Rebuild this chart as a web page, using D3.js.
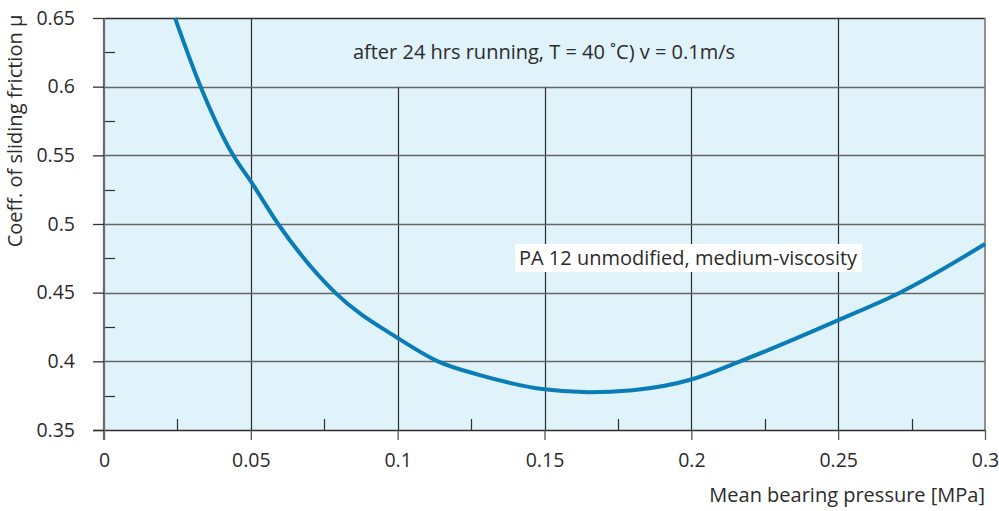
<!DOCTYPE html>
<html>
<head>
<meta charset="utf-8">
<script src="https://cdn.jsdelivr.net/npm/d3@7"></script>
<style>
  html, body { margin: 0; padding: 0; background: #fff; }
  svg { display: block; }
  text { font-family: "Open Sans", "Noto Sans", sans-serif; fill: #2b2b2b; }
</style>
</head>
<body>
<svg id="chart" width="999" height="511"></svg>
<script>
// ---- data ----
const pressure = [0.0242, 0.0329, 0.044, 0.05, 0.0593, 0.0787, 0.1, 0.1137, 0.128, 0.15, 0.165, 0.18, 0.2, 0.2166, 0.25, 0.271, 0.3];
const friction = [0.65, 0.6, 0.55, 0.531, 0.5, 0.45, 0.417, 0.4, 0.39, 0.3796, 0.3775, 0.379, 0.3868, 0.4, 0.43, 0.45, 0.4854];
const xTicks = [0, 0.05, 0.1, 0.15, 0.2, 0.25, 0.3];
const xTickLabels = ["0", "0.05", "0.1", "0.15", "0.2", "0.25", "0.3"];
const yTicks = [0.35, 0.4, 0.45, 0.5, 0.55, 0.6, 0.65];
const yTickLabels = ["0.35", "0.4", "0.45", "0.5", "0.55", "0.6", "0.65"];
const xMinor = [0.025, 0.075, 0.125, 0.175, 0.225, 0.275];
const yMinor = [0.375, 0.425, 0.475, 0.525, 0.575, 0.625];
const xTitle = "Mean bearing pressure [MPa]";
const yTitle = "Coeff. of sliding friction \u03bc";
const noteTop = "after 24 hrs running, T = 40 \u02daC) v = 0.1m/s";
const noteCurve = "PA 12 unmodified, medium-viscosity";

// ---- layout ----
const FS = 19.5;
const svg = d3.select("#chart");
const L = 104, R = 985, T = 18, B = 430;
const x = d3.scaleLinear().domain([0, 0.3]).range([L, R]);
const y = d3.scaleLinear().domain([0.35, 0.65]).range([B, T]);

// background
svg.append("rect").attr("x", L).attr("y", T).attr("width", R - L).attr("height", B - T).attr("fill", "#e0f2fa");

// vertical grid
svg.append("g").selectAll("line").data(xTicks.slice(1, -1)).join("line")
  .attr("x1", d => Math.round(x(d)) + 0.5).attr("x2", d => Math.round(x(d)) + 0.5)
  .attr("y1", T).attr("y2", B)
  .attr("stroke", "#2e2e2e").attr("stroke-width", 1.2);

// cover behind top note
svg.append("rect")
  .attr("x", x(0.06)).attr("y", T + 1).attr("width", x(0.24) - x(0.06)).attr("height", y(0.6) - T - 1)
  .attr("fill", "#e0f2fa");

// horizontal grid
svg.append("g").selectAll("line").data(yTicks.slice(1, -1)).join("line")
  .attr("x1", L).attr("x2", R)
  .attr("y1", d => Math.round(y(d)) + 0.5).attr("y2", d => Math.round(y(d)) + 0.5)
  .attr("stroke", "#666").attr("stroke-width", 1.5);

// minor ticks
svg.append("g").selectAll("line").data(xMinor).join("line")
  .attr("x1", d => Math.round(x(d)) + 0.5).attr("x2", d => Math.round(x(d)) + 0.5)
  .attr("y1", B).attr("y2", B - 11).attr("stroke", "#2e2e2e").attr("stroke-width", 1.2);
svg.append("g").selectAll("line").data(yMinor).join("line")
  .attr("x1", L).attr("x2", L + 11)
  .attr("y1", d => Math.round(y(d)) + 0.5).attr("y2", d => Math.round(y(d)) + 0.5)
  .attr("stroke", "#2e2e2e").attr("stroke-width", 1.2);

// top & right frame
svg.append("line").attr("x1", L).attr("x2", R).attr("y1", T + 0.5).attr("y2", T + 0.5).attr("stroke", "#2e2e2e").attr("stroke-width", 1.3);
svg.append("line").attr("x1", R).attr("x2", R).attr("y1", T).attr("y2", B).attr("stroke", "#777").attr("stroke-width", 1.6);

// axes
const xAxis = d3.axisBottom(x).tickValues(xTicks).tickFormat((d, i) => xTickLabels[i]).tickSize(10).tickPadding(13);
const gx = svg.append("g").attr("transform", `translate(0,${B})`).call(xAxis);
gx.select(".domain").attr("stroke", "#2e2e2e").attr("stroke-width", 1.5).attr("d", `M${L - 11},0.5H${R}`);
gx.selectAll(".tick line").attr("stroke", "#555").attr("stroke-width", 1.3);
gx.selectAll(".tick text").attr("font-size", FS).attr("font-family", "'Open Sans', sans-serif").attr("fill", "#2b2b2b");

const yAxis = d3.axisLeft(y).tickValues(yTicks).tickFormat((d, i) => yTickLabels[i]).tickSize(11).tickPadding(18);
const gy = svg.append("g").attr("transform", `translate(${L},0)`).call(yAxis);
gy.select(".domain").attr("stroke", "#6a6a6a").attr("stroke-width", 2.2).attr("d", `M0,${T}V${B + 10}`);
gy.selectAll(".tick line").attr("stroke", "#333").attr("stroke-width", 1.3);
gy.selectAll(".tick text").attr("font-size", FS).attr("font-family", "'Open Sans', sans-serif").attr("fill", "#2b2b2b");

// curve
const pts = pressure.map((p, i) => [p, friction[i]]);
svg.append("path").datum(pts)
  .attr("fill", "none").attr("stroke", "#0a7cb6").attr("stroke-width", 4)
  .attr("stroke-linecap", "butt")
  .attr("d", d3.line().x(d => x(d[0])).y(d => y(d[1])).curve(d3.curveMonotoneX));

// notes
svg.append("text").attr("x", 544).attr("y", y(0.625) + 7)
  .attr("text-anchor", "middle").attr("font-size", 20).text(noteTop);

const n2 = svg.append("g");
const n2t = n2.append("text").attr("x", 519).attr("y", 265).attr("font-size", 20).text(noteCurve);
const bb = n2t.node().getBBox();
n2.insert("rect", "text").attr("x", bb.x - 4).attr("y", 244).attr("width", bb.width + 8).attr("height", 28).attr("fill", "#fff");

// titles
svg.append("text").attr("x", R).attr("y", 502).attr("text-anchor", "end").attr("font-size", 20).text(xTitle);
svg.append("text").attr("transform", `translate(22,131) rotate(-90)`).attr("text-anchor", "middle").attr("font-size", 20).text(yTitle);
</script>
</body>
</html>
